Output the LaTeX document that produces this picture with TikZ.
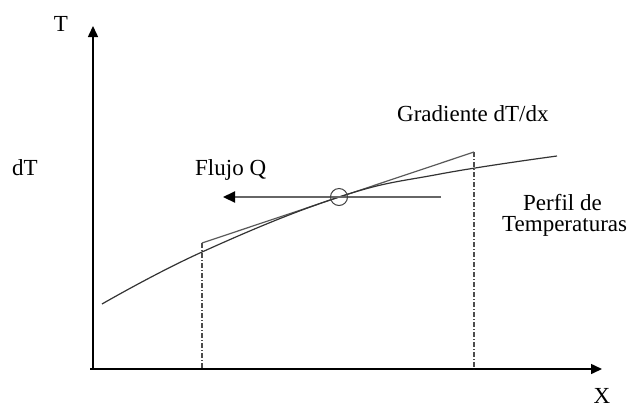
\documentclass[tikz,border=0pt]{standalone}
\usepackage{fontspec}
\setmainfont{Liberation Serif}
\usetikzlibrary{arrows.meta}
\begin{document}
\begin{tikzpicture}[x=1pt,y=-1pt,
  lbl/.style={inner sep=0pt,font=\fontsize{23}{26}\selectfont},
  axisline/.style={line width=1.5pt,black,-{Triangle[length=11pt,width=10pt]}},
  guide/.style={line width=1.3pt,gray!60!black,dash pattern=on 5pt off 2pt on 1pt off 2pt},
  curveline/.style={line width=1.2pt,black!80},
  fluxline/.style={line width=2.2pt,gray!80!black,-{Triangle[length=12pt,width=11pt,color=black]}}]
\useasboundingbox (0,0) rectangle (631,408);
% axes
\coordinate (O) at (93,369);
\coordinate (Ytop) at (93,26);
\coordinate (Xstart) at (90,369);
\coordinate (Xend) at (602,369);
\draw[axisline] (O) -- (Ytop);
\draw[axisline] (Xstart) -- (Xend);
% guides
\coordinate (L1) at (202,243);
\coordinate (L0) at (202,369);
\coordinate (R1) at (474,152);
\coordinate (R0) at (474,369);
\draw[guide] (L1) -- (L0);
\draw[guide] (R1) -- (R0);
% tangent
\coordinate (C) at (339,197);
\draw[line width=1.2pt,black!65] (L1) -- (R1);
% profile
\draw[curveline] plot[smooth,tension=0.7] coordinates {(102,304) (202,252) (339,197) (440,174) (557,156)};
% flux
\coordinate (F1) at (441,197);
\coordinate (F0) at (223,197);
\draw[fluxline] (F1) -- (F0);
\node[draw=black!75,line width=1pt,circle,minimum size=17pt,inner sep=0pt] (circ) at (C) {};
% labels
\node[lbl,anchor=base] (t) at (61,31) {T};
\node[lbl,anchor=base] (dt) at (25,175) {dT};
\node[lbl,anchor=base west] (fq) at (195,175) {Flujo Q};
\node[lbl,anchor=base west] (gr) at (397,121) {Gradiente dT/dx};
\node[lbl,anchor=base west] (pf) at (523,210) {Perfil de};
\node[lbl,anchor=base west] (tm) at (502,231) {Temperaturas};
\node[lbl,anchor=base] (xl) at (602,403) {X};
\end{tikzpicture}
\end{document}
